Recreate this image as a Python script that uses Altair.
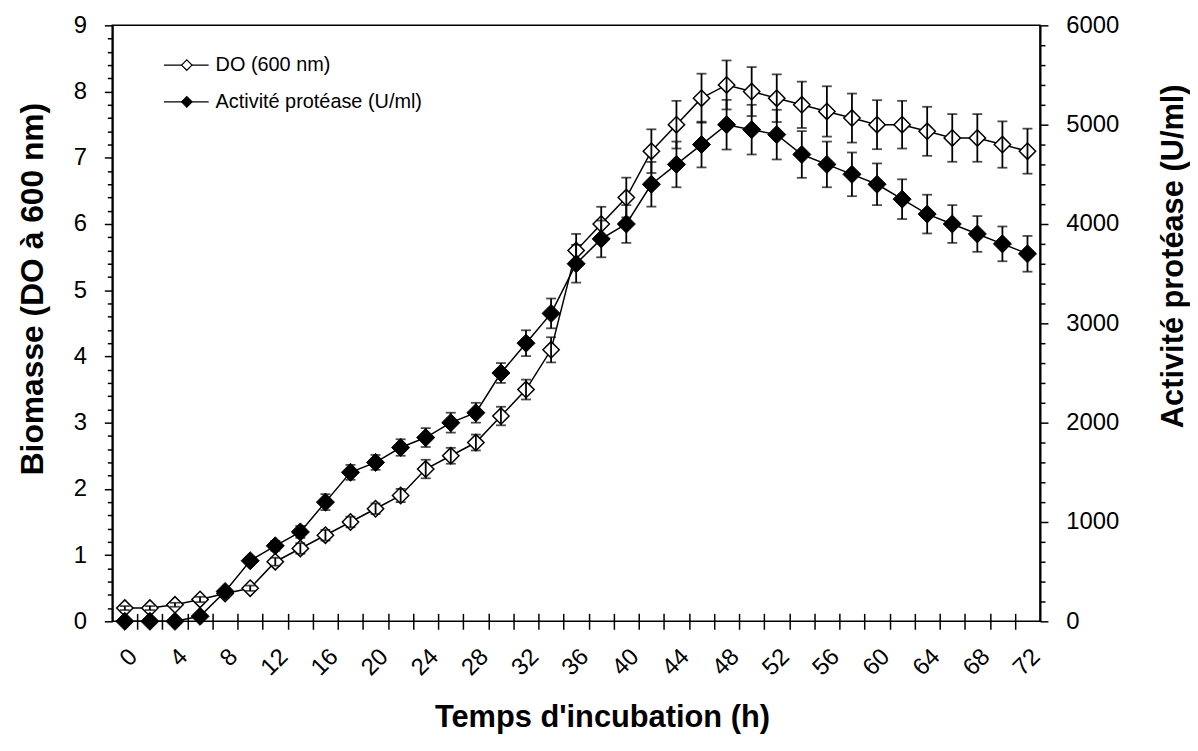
import altair as alt
import pandas as pd

# ---------------- data ----------------
hours = list(range(0, 73, 2))
do_600 = [0.2, 0.2, 0.25, 0.33, 0.42, 0.5, 0.9, 1.1, 1.3, 1.5, 1.7, 1.9, 2.3, 2.5,
          2.7, 3.1, 3.5, 4.1, 5.6, 6.0, 6.4, 7.1, 7.5, 7.9, 8.1, 8.0, 7.9, 7.8,
          7.7, 7.6, 7.5, 7.5, 7.4, 7.3, 7.3, 7.2, 7.1]
do_err = [0.03, 0.03, 0.03, 0.04, 0.05, 0.04, 0.06, 0.08, 0.08, 0.08, 0.08, 0.1,
          0.14, 0.12, 0.12, 0.14, 0.15, 0.19, 0.25, 0.26, 0.3, 0.33, 0.36, 0.37,
          0.37, 0.37, 0.36, 0.35, 0.38, 0.37, 0.37, 0.36, 0.37, 0.36, 0.36, 0.35, 0.34]
protease = [0, 0, 0, 50, 300, 610, 760, 900, 1200, 1500, 1600, 1750, 1850, 2000,
            2100, 2500, 2800, 3100, 3600, 3850, 4000, 4400, 4600, 4800, 5000, 4950,
            4900, 4700, 4600, 4500, 4400, 4250, 4100, 4000, 3900, 3800, 3700]
protease_err = [0, 0, 0, 20, 30, 40, 50, 60, 80, 75, 75, 83, 95, 100, 100, 100,
                130, 150, 190, 185, 190, 225, 230, 230, 250, 250, 250, 235, 230,
                220, 210, 200, 195, 190, 180, 175, 180]

legend_labels = ["DO (600 nm)", "Activité protéase (U/ml)"]
x_title = "Temps d'incubation (h)"
y_left_title = "Biomasse (DO à 600 nm)"
y_right_title = "Activité protéase (U/ml)"

FONT = "Liberation Sans"
W, H = 934, 600

df = pd.DataFrame({"h": hours, "do": do_600, "do_err": do_err,
                   "pa": protease, "pa_err": protease_err})
df["do_lo"] = df["do"] - df["do_err"]
df["do_hi"] = df["do"] + df["do_err"]
df["pa_lo"] = df["pa"] - df["pa_err"]
df["pa_hi"] = df["pa"] + df["pa_err"]

# ---------------- axes ----------------
x_vals = sorted(set(list(range(1, 72, 2)) + list(range(0, 73, 4))))
x_axis = alt.Axis(
    values=x_vals,
    labelExpr="datum.value % 4 === 0 ? format(datum.value, 'd') : ''",
    labelAngle=315, labelFontSize=24, labelOverlap=False, labelFlush=False,
    labelPadding=15,
    tickSize=16, tickWidth=1.5,
    tickOpacity={"condition": {"test": "datum.value % 2 === 0", "value": 0}, "value": 1},
    domain=False, offset=-8, grid=False,
    title=x_title, titleFontSize=31, titleFontWeight="bold",
    titleX=493, titleY=114, titleAlign="center", titleBaseline="alphabetic",
)
x_enc = alt.X("h:Q", scale=alt.Scale(domain=[-1, 73], nice=False, zero=False), axis=x_axis)

left_vals = [round(i * 0.2, 1) for i in range(46)]
left_axis = alt.Axis(
    orient="left", values=left_vals,
    labelExpr="abs(datum.value - round(datum.value)) < 0.001 ? format(datum.value, '.0f') : ''",
    labelFontSize=24, labelPadding=18,
    tickSize={"condition": {"test": "abs(datum.value - round(datum.value)) < 0.001", "value": 8}, "value": 5},
    tickWidth=1.5, domainWidth=2, grid=False,
    title=y_left_title, titleFontSize=32, titleFontWeight="bold",
    titleAngle=270, titleX=-70, titleY=265, titleAlign="center", titleBaseline="alphabetic",
)
right_vals = list(range(0, 6001, 200))
right_axis = alt.Axis(
    orient="right", values=right_vals,
    labelExpr="datum.value % 1000 === 0 ? format(datum.value, 'd') : ''",
    labelFontSize=24, labelPadding=18,
    tickSize={"condition": {"test": "datum.value % 1000 === 0", "value": 8}, "value": 5},
    tickWidth=1.5, domainWidth=2, grid=False,
    title=y_right_title, titleFontSize=31, titleFontWeight="bold",
    titleAngle=270, titleX=143, titleY=232, titleAlign="center", titleBaseline="alphabetic",
)

do_scale = alt.Scale(domain=[0, 9], nice=False, zero=True)
pa_scale = alt.Scale(domain=[0, 6000], nice=False, zero=True)

base = alt.Chart(df)

# ---------------- DO series (left axis) ----------------
do_line = base.mark_line(color="black", strokeWidth=1.5).encode(
    x=x_enc, y=alt.Y("do:Q", scale=do_scale, axis=left_axis))
do_pts = base.mark_point(shape="diamond", size=270, filled=True, fill="white",
                         stroke="black", strokeWidth=1.5, opacity=1).encode(
    x=x_enc, y=alt.Y("do:Q", scale=do_scale, axis=left_axis))
do_bar = base.mark_rule(color="black", strokeWidth=1.8).encode(
    x=x_enc, y=alt.Y("do_lo:Q", scale=do_scale, axis=left_axis), y2="do_hi:Q")
do_cap_lo = base.mark_tick(color="black", orient="horizontal", size=10, thickness=1.8).encode(
    x=x_enc, y=alt.Y("do_lo:Q", scale=do_scale, axis=left_axis))
do_cap_hi = base.mark_tick(color="black", orient="horizontal", size=10, thickness=1.8).encode(
    x=x_enc, y=alt.Y("do_hi:Q", scale=do_scale, axis=left_axis))
do_layer = alt.layer(do_line, do_pts, do_bar, do_cap_lo, do_cap_hi)

# ---------------- protease series (right axis) ----------------
pa_line = base.mark_line(color="black", strokeWidth=1.5).encode(
    x=x_enc, y=alt.Y("pa:Q", scale=pa_scale, axis=right_axis))
pa_bar = base.mark_rule(color="black", strokeWidth=1.8).encode(
    x=x_enc, y=alt.Y("pa_lo:Q", scale=pa_scale, axis=right_axis), y2="pa_hi:Q")
pa_cap_lo = base.mark_tick(color="black", orient="horizontal", size=10, thickness=1.8).encode(
    x=x_enc, y=alt.Y("pa_lo:Q", scale=pa_scale, axis=right_axis))
pa_cap_hi = base.mark_tick(color="black", orient="horizontal", size=10, thickness=1.8).encode(
    x=x_enc, y=alt.Y("pa_hi:Q", scale=pa_scale, axis=right_axis))
pa_pts = base.mark_point(shape="diamond", size=330, filled=True, fill="black",
                         stroke="black", strokeWidth=1, opacity=1).encode(
    x=x_enc, y=alt.Y("pa:Q", scale=pa_scale, axis=right_axis))
pa_layer = alt.layer(pa_line, pa_bar, pa_cap_lo, pa_cap_hi, pa_pts)

# ---------------- legend (inside, top-left) ----------------
legend_layers = []
for lab, fill, yy in zip(legend_labels, ["white", "black"], [40, 77]):
    ldf = pd.DataFrame({"label": [lab]})
    lb = alt.Chart(ldf)
    legend_layers.append(lb.mark_rule(color="black", strokeWidth=1.2).encode(
        x=alt.value(52), x2=alt.value(97), y=alt.value(yy)))
    legend_layers.append(lb.mark_point(shape="diamond", size=110, filled=True, fill=fill,
                                       stroke="black", strokeWidth=1.2, opacity=1).encode(
        x=alt.value(75), y=alt.value(yy)))
    legend_layers.append(lb.mark_text(align="left", baseline="middle", font=FONT,
                                      fontSize=20, color="black").encode(
        x=alt.value(104), y=alt.value(yy), text="label:N"))

chart = alt.layer(do_layer, pa_layer, *legend_layers).resolve_scale(
    y="independent"
).properties(
    width=W, height=H,
    autosize=alt.AutoSizeParams(type="none"),
    padding={"left": 105, "top": 15, "right": 151, "bottom": 115},
).configure_axis(
    labelFont=FONT, titleFont=FONT, labelColor="black", titleColor="black",
    tickColor="black", domainColor="black",
).configure_view(
    stroke="black", strokeWidth=1.5
)

chart.save("out.html", embed_options={"renderer": "svg", "actions": False})
